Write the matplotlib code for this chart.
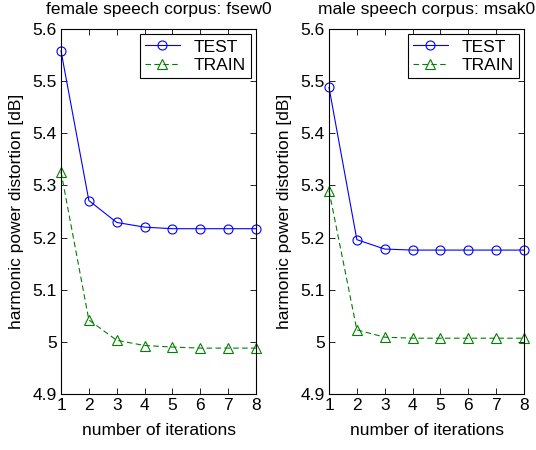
import numpy as np
import matplotlib
matplotlib.use("Agg")
import matplotlib.pyplot as plt

plt.rcParams["font.family"] = ["Liberation Sans", "DejaVu Sans"]
plt.rcParams["font.size"] = 12.5

# Data
iterations = [1, 2, 3, 4, 5, 6, 7, 8]

female_test = [5.558, 5.271, 5.229, 5.220, 5.217, 5.217, 5.217, 5.217]
female_train = [5.326, 5.042, 5.003, 4.993, 4.990, 4.988, 4.988, 4.988]

male_test = [5.488, 5.196, 5.178, 5.176, 5.176, 5.176, 5.176, 5.176]
male_train = [5.290, 5.023, 5.009, 5.007, 5.007, 5.007, 5.007, 5.007]

titles = ["female speech corpus: fsew0", "male speech corpus: msak0"]
yticks = [4.9, 5.0, 5.1, 5.2, 5.3, 5.4, 5.5, 5.6]
yticklabels = ["4.9", "5", "5.1", "5.2", "5.3", "5.4", "5.5", "5.6"]

fig = plt.figure(figsize=(5.36, 4.5), dpi=100)
W, H = 536, 450
panels = [
    (61, female_test, female_train, titles[0]),
    (329, male_test, male_train, titles[1]),
]

for x0, test, train, title in panels:
    ax = fig.add_axes([x0 / W, (H - 394) / H, 195 / W, 365 / H])
    ax.plot(iterations, test, color="blue", lw=0.8, marker="o", ms=6.5,
            mfc="none", mec="blue", mew=0.8, label="TEST", clip_on=False)
    ax.plot(iterations, train, color="green", lw=0.8, ls=(0, (5, 3)),
            marker="^", ms=6.5, mfc="none", mec="green", mew=0.8,
            label="TRAIN", clip_on=False)
    ax.set_xlim(1, 8)
    ax.set_ylim(4.9, 5.6)
    ax.set_xticks(iterations)
    ax.set_yticks(yticks)
    ax.set_yticklabels(yticklabels)
    ax.tick_params(direction="in", top=True, right=True, length=4,
                   width=0.6, pad=3)
    for s in ax.spines.values():
        s.set_linewidth(0.8)
    ax.set_xlabel("number of iterations", labelpad=7)
    ax.set_ylabel("harmonic power distortion [dB]", labelpad=6)
    ax.set_title(title, fontsize=12.5, pad=11)
    leg = ax.legend(loc="upper right", numpoints=1, handlelength=2.0,
                    fancybox=False, framealpha=1, edgecolor="black",
                    borderaxespad=0.3, borderpad=0.3, labelspacing=0.2,
                    handletextpad=0.8)
    leg.get_frame().set_linewidth(0.8)

fig.savefig("out.png", dpi=100)
